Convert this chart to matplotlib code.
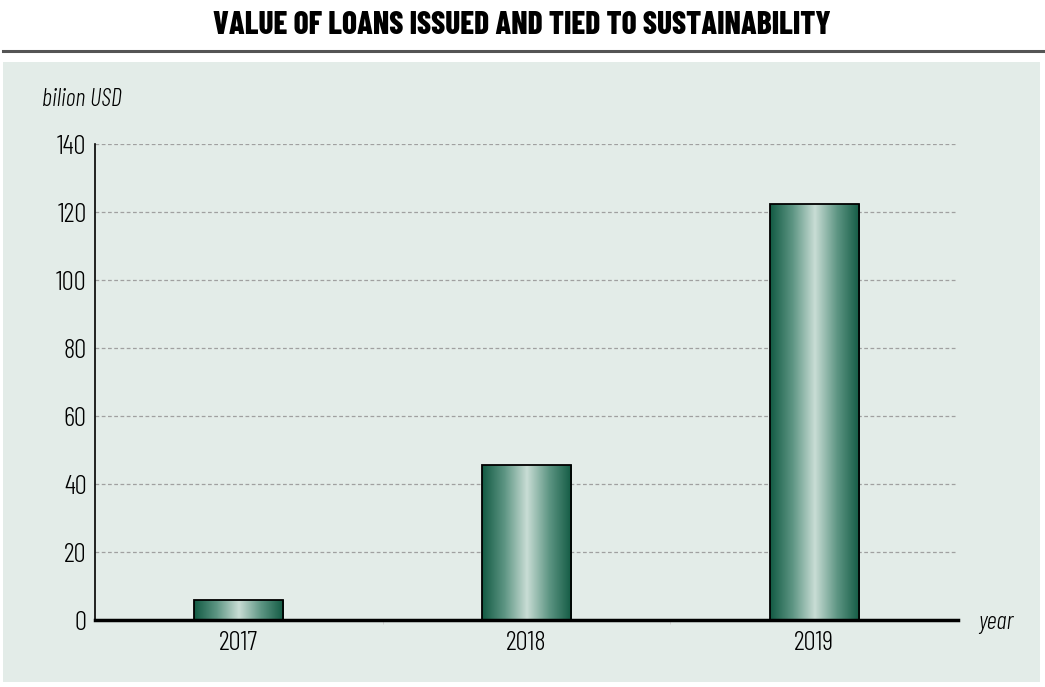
import numpy as np
import matplotlib
matplotlib.use("Agg")
import matplotlib.pyplot as plt
from matplotlib.patches import Rectangle
from matplotlib.colors import LinearSegmentedColormap

years = ["2017", "2018", "2019"]
values = [6, 45.5, 122.5]
yticks = [0, 20, 40, 60, 80, 100, 120, 140]
title = "VALUE OF LOANS ISSUED AND TIED TO SUSTAINABILITY"

cond = ["Barlow Condensed", "DejaVu Sans"]

W, H = 1045, 687
fig = plt.figure(figsize=(W / 100, H / 100), dpi=100)
fig.patch.set_facecolor("white")

# panel background
fig.patches.append(Rectangle((3 / W, 1 - 682 / H), 1037 / W, 620 / H,
                             transform=fig.transFigure, facecolor="#e3ece8",
                             edgecolor="none", zorder=-5))
# rule under title
fig.add_artist(plt.Line2D([3 / W, 1], [1 - 51 / H, 1 - 51 / H], color="#555555",
                          lw=2.2, transform=fig.transFigure))
fig.text(522 / W, 1 - 25 / H, title, ha="center", va="center",
         fontsize=22.5, fontweight=800, family=cond, color="black")

ax = fig.add_axes([95 / W, 1 - 620 / H, 863 / W, 476 / H])
ax.set_facecolor("none")
ax.set_zorder(2)
ax.set_xlim(-0.5, 2.5)
ax.set_ylim(0, 140)

for s in ["top", "right"]:
    ax.spines[s].set_visible(False)
ax.spines["left"].set_linewidth(1.2)
ax.spines["bottom"].set_linewidth(2.5)
ax.spines["bottom"].set_zorder(5)

ax.set_yticks(yticks)
ax.set_yticklabels([str(t) for t in yticks], family=cond, fontsize=19.5, fontweight=300)
ax.set_xticks(range(len(years)))
ax.set_xticklabels(years, family=cond, fontsize=19.5, fontweight=300)
ax.tick_params(axis="both", length=0, pad=6)
ax.tick_params(axis="x", pad=8)
ax.set_xticks([0.5, 1.5], minor=True)
ax.tick_params(axis="x", which="minor", length=3, color="#cccccc", width=0.6)

for t in yticks[1:]:
    ax.axhline(t, color="#a0a0a0", lw=0.9, ls=(0, (3, 2)), zorder=1)

cmap = LinearSegmentedColormap.from_list(
    "g", ["#125a43", "#5d9583", "#c9ddd5", "#5d9583", "#125a43"])
grad = np.linspace(0, 1, 256).reshape(1, -1)
bw = 0.31
bars = ax.bar(range(len(years)), values, width=bw, facecolor="none",
              edgecolor="black", lw=1.3, zorder=3)
for b in bars:
    x0, y0 = b.get_x(), b.get_y()
    im = ax.imshow(grad, cmap=cmap, aspect="auto", zorder=2,
                   extent=[x0, x0 + b.get_width(), y0, y0 + b.get_height()])
    im.set_clip_path(b)
ax.set_xlim(-0.5, 2.5)
ax.set_ylim(0, 140)

fig.text(42 / W, 1 - 100 / H, "bilion USD", family=cond, style="italic",
         fontweight=300, fontsize=17.5, va="center", ha="left")
fig.text(978 / W, 1 - 622 / H, "year", family=cond, style="italic",
         fontweight=300, fontsize=18, va="center", ha="left")

fig.savefig("out.png", dpi=100)
